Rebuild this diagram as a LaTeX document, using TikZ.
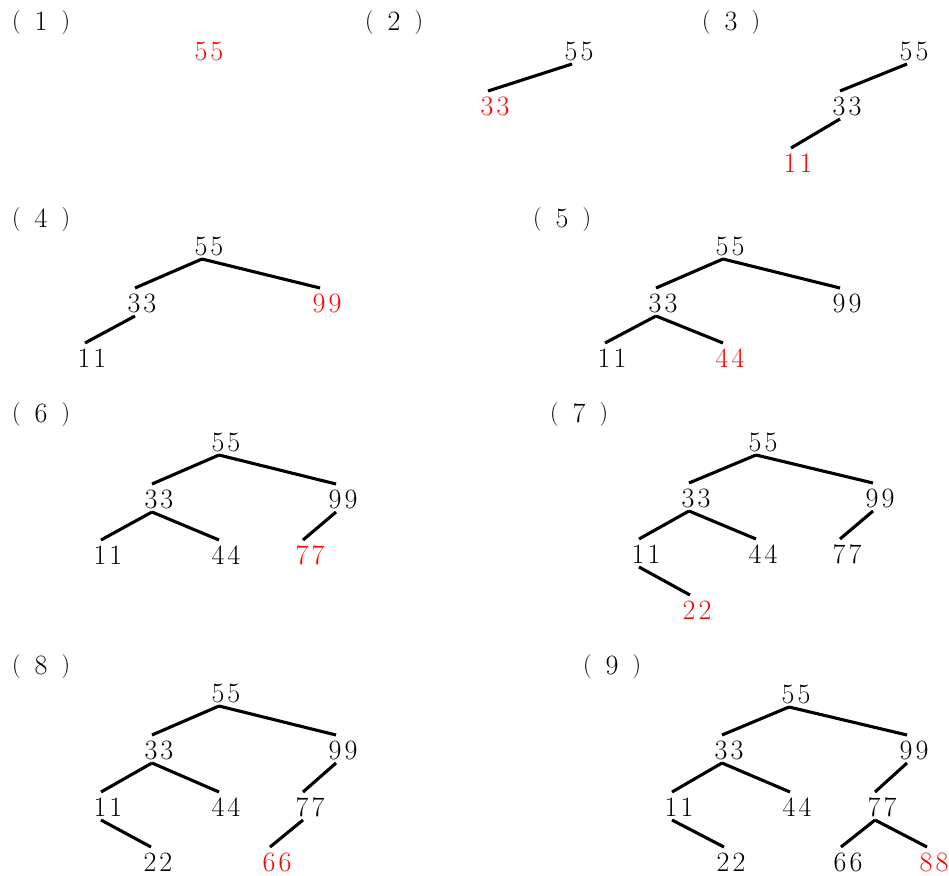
\documentclass[tikz,border=0pt]{standalone}
\usepackage{xcolor}
\definecolor{newred}{RGB}{255,0,0}
\newcommand\tn[2]{#1\kern3pt#2}
\newcommand\plab[1]{\raisebox{2pt}{\fontsize{24}{24}\selectfont(}\hspace{14pt}#1\hspace{14pt}\raisebox{2pt}{\fontsize{24}{24}\selectfont)}}
\tikzset{
  val/.style={inner sep=0pt, anchor=center, font=\fontsize{28}{28}\selectfont},
  newval/.style={val, text=newred},
  plabel/.style={inner sep=0pt, anchor=west, font=\fontsize{28}{28}\selectfont},
  conn/.style={line width=3.1pt, black}
}
\newcommand\conn[2]{\draw[conn] ([shift={(-7,13)}]#1.center) -- ([shift={(-7,-15)}]#2.center);}
\begin{document}
\begin{tikzpicture}[x=1pt,y=-1pt]
\useasboundingbox (0,0) rectangle (949,875);
% labels
\node[plabel] (l1) at (12,23) {\plab{1}};
\node[plabel] (l2) at (365,23) {\plab{2}};
\node[plabel] (l3) at (702,23) {\plab{3}};
\node[plabel] (l4) at (12,220) {\plab{4}};
\node[plabel] (l5) at (533,220) {\plab{5}};
\node[plabel] (l6) at (12,415) {\plab{6}};
\node[plabel] (l7) at (550,415) {\plab{7}};
\node[plabel] (l8) at (12,667) {\plab{8}};
\node[plabel] (l9) at (583,667) {\plab{9}};
% (1)
\node[newval] (a55) at (209,51) {\tn55};
% (2)
\node[val] (b55) at (579,51) {\tn55};
\node[newval] (b33) at (495,106) {\tn33};
\conn{b55}{b33}
% (3)
\node[val] (c55) at (914,51) {\tn55};
\node[val] (c33) at (847,106) {\tn33};
\node[newval] (c11) at (798,163) {\tn11};
\conn{c55}{c33}
\conn{c33}{c11}
% (4)
\node[val] (d55) at (209,246) {\tn55};
\node[val] (d33) at (142,303) {\tn33};
\node[newval] (d99) at (327,303) {\tn99};
\node[val] (d11) at (92,358) {\tn11};
\conn{d55}{d33}
\conn{d55}{d99}
\conn{d33}{d11}
% (5)
\node[val] (e55) at (730,246) {\tn55};
\node[val] (e33) at (663,303) {\tn33};
\node[val] (e99) at (847,303) {\tn99};
\node[val] (e11) at (612,358) {\tn11};
\node[newval] (e44) at (730,358) {\tn44};
\conn{e55}{e33}
\conn{e55}{e99}
\conn{e33}{e11}
\conn{e33}{e44}
% (6)
\node[val] (f55) at (226,442) {\tn55};
\node[val] (f33) at (159,499) {\tn33};
\node[val] (f99) at (343,499) {\tn99};
\node[val] (f11) at (108,555) {\tn11};
\node[val] (f44) at (226,555) {\tn44};
\node[newval] (f77) at (310,555) {\tn77};
\conn{f55}{f33}
\conn{f55}{f99}
\conn{f33}{f11}
\conn{f33}{f44}
\conn{f99}{f77}
% (7)
\node[val] (g55) at (763,442) {\tn55};
\node[val] (g33) at (696,498) {\tn33};
\node[val] (g99) at (880,498) {\tn99};
\node[val] (g11) at (646,554) {\tn11};
\node[val] (g44) at (763,554) {\tn44};
\node[val] (g77) at (847,554) {\tn77};
\node[newval] (g22) at (697,610) {\tn22};
\conn{g55}{g33}
\conn{g55}{g99}
\conn{g33}{g11}
\conn{g33}{g44}
\conn{g99}{g77}
\conn{g11}{g22}
% (8)
\node[val] (h55) at (226,693) {\tn55};
\node[val] (h33) at (159,750) {\tn33};
\node[val] (h99) at (343,750) {\tn99};
\node[val] (h11) at (108,807) {\tn11};
\node[val] (h44) at (226,807) {\tn44};
\node[val] (h77) at (310,807) {\tn77};
\node[val] (h22) at (158,862) {\tn22};
\node[newval] (h66) at (277,862) {\tn66};
\conn{h55}{h33}
\conn{h55}{h99}
\conn{h33}{h11}
\conn{h33}{h44}
\conn{h99}{h77}
\conn{h11}{h22}
\conn{h77}{h66}
% (9)
\node[val] (i55) at (796,694) {\tn55};
\node[val] (i33) at (729,750) {\tn33};
\node[val] (i99) at (914,750) {\tn99};
\node[val] (i11) at (679,807) {\tn11};
\node[val] (i44) at (797,807) {\tn44};
\node[val] (i77) at (882,807) {\tn77};
\node[val] (i22) at (731,862) {\tn22};
\node[val] (i66) at (848,862) {\tn66};
\node[newval] (i88) at (934,862) {\tn88};
\conn{i55}{i33}
\conn{i55}{i99}
\conn{i33}{i11}
\conn{i33}{i44}
\conn{i99}{i77}
\conn{i11}{i22}
\conn{i77}{i66}
\conn{i77}{i88}
\end{tikzpicture}
\end{document}
